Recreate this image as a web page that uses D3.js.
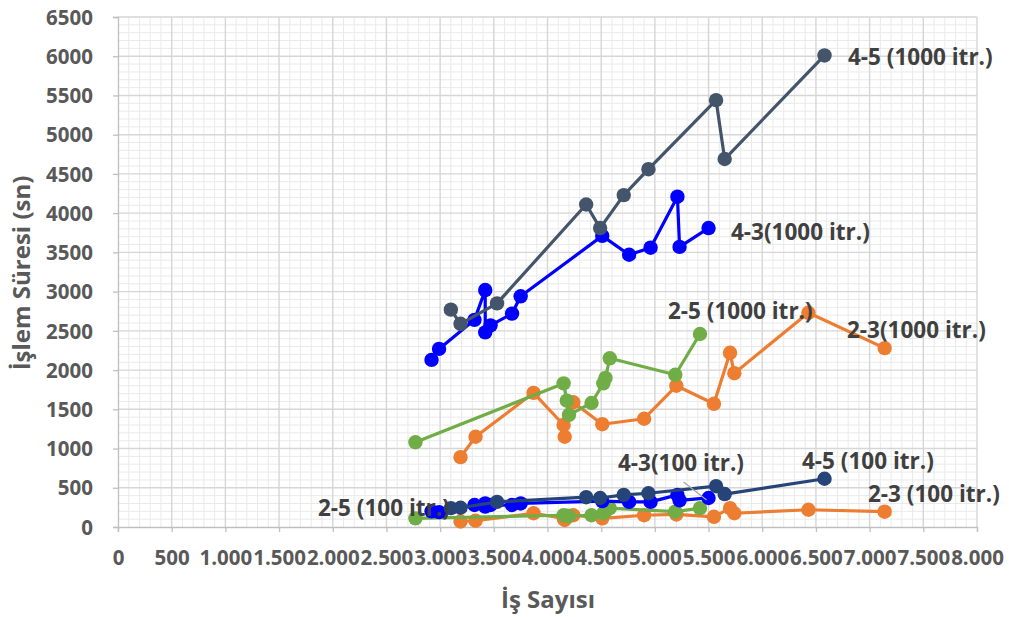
<!DOCTYPE html>
<html>
<head>
<meta charset="utf-8">
<script src="https://cdn.jsdelivr.net/npm/d3@7"></script>
<style>
  html, body { margin: 0; padding: 0; background: #ffffff; }
  svg { display: block; }
  text { font-family: "Open Sans", "DejaVu Sans", sans-serif; font-weight: 700; }
</style>
</head>
<body>
<svg id="chart" width="1009" height="617"></svg>
<script>
// Job counts per configuration (shared by the 1000- and 100-iteration runs)
const jobs45 = [3100, 3190, 3530, 4360, 4490, 4710, 4940, 5570, 5650, 6580];
const jobs43 = [2920, 2990, 3320, 3420, 3420, 3470, 3670, 3750, 4510, 4760, 4960, 5210, 5230, 5500];
const jobs25 = [2770, 4150, 4180, 4200, 4410, 4520, 4540, 4580, 5190, 5420];
const jobs23 = [3190, 3330, 3870, 4150, 4160, 4240, 4510, 4900, 5200, 5550, 5700, 5740, 6430, 7140];

// Processing times (seconds)
const time45_1000 = [2770, 2590, 2850, 4110, 3810, 4230, 4560, 5440, 4690, 6010];
const time43_1000 = [2130, 2270, 2640, 3020, 2480, 2570, 2720, 2940, 3710, 3470, 3560, 4210, 3570, 3810];
const time25_1000 = [1080, 1830, 1610, 1430, 1580, 1830, 1900, 2150, 1940, 2460];
const time23_1000 = [890, 1150, 1710, 1300, 1150, 1590, 1310, 1380, 1800, 1570, 2220, 1960, 2730, 2280];

const time45_100 = [240, 245, 320, 380, 370, 410, 430, 520, 420, 615];
const time43_100 = [200, 190, 280, 300, 260, 280, 280, 300, 330, 320, 320, 410, 340, 370];
const time25_100 = [110, 150, 145, 140, 150, 175, 200, 240, 195, 240];
const time23_100 = [70, 80, 175, 110, 90, 150, 110, 150, 160, 130, 240, 175, 220, 195];

// Axis ticks
const xTicks = d3.range(0, 8001, 500);
const yTicks = d3.range(0, 6501, 500);

const seriesNames = [
  "2-3(1000 itr.)", "2-5 (1000 itr.)", "4-3(1000 itr.)", "4-5 (1000 itr.)",
  "2-3 (100 itr.)", "2-5 (100 itr.)", "4-3(100 itr.)", "4-5 (100 itr.)"
];

const colors = {
  "2-3": "#ED7D31", "2-5": "#70AD47", "4-3": "#0000FF",
  "4-5a": "#44546A", "4-5b": "#264478"
};

const series = [
  { name: seriesNames[0], x: jobs23, y: time23_1000, color: colors["2-3"] },
  { name: seriesNames[1], x: jobs25, y: time25_1000, color: colors["2-5"] },
  { name: seriesNames[2], x: jobs43, y: time43_1000, color: colors["4-3"] },
  { name: seriesNames[3], x: jobs45, y: time45_1000, color: colors["4-5a"] },
  { name: seriesNames[4], x: jobs23, y: time23_100, color: colors["2-3"] },
  { name: seriesNames[5], x: jobs25, y: time25_100, color: colors["2-5"] },
  { name: seriesNames[6], x: jobs43, y: time43_100, color: colors["4-3"] },
  { name: seriesNames[7], x: jobs45, y: time45_100, color: colors["4-5b"] }
];

const svg = d3.select("#chart");
const plotLeft = 118, plotRight = 977, plotTop = 17, plotBottom = 527;

const x = d3.scaleLinear().domain([0, 8000]).range([plotLeft, plotRight]);
const y = d3.scaleLinear().domain([0, 6500]).range([plotBottom, plotTop]);

// Minor grid every 100, major every 500
const minorX = d3.range(0, 8001, 100).filter(v => v % 500 !== 0);
const minorY = d3.range(0, 6501, 100).filter(v => v % 500 !== 0);

const grid = svg.append("g");
grid.selectAll(".mx").data(minorX).join("line")
  .attr("x1", d => x(d)).attr("x2", d => x(d))
  .attr("y1", plotTop).attr("y2", plotBottom)
  .attr("stroke", "#eaeaea").attr("stroke-width", 1);
grid.selectAll(".my").data(minorY).join("line")
  .attr("x1", plotLeft).attr("x2", plotRight)
  .attr("y1", d => y(d)).attr("y2", d => y(d))
  .attr("stroke", "#eaeaea").attr("stroke-width", 1);
grid.selectAll(".Mx").data(xTicks.filter(v => v > 0)).join("line")
  .attr("x1", d => x(d)).attr("x2", d => x(d))
  .attr("y1", plotTop).attr("y2", plotBottom)
  .attr("stroke", "#d6d6d6").attr("stroke-width", 1.4);
grid.selectAll(".My").data(yTicks.filter(v => v > 0)).join("line")
  .attr("x1", plotLeft).attr("x2", plotRight)
  .attr("y1", d => y(d)).attr("y2", d => y(d))
  .attr("stroke", "#d6d6d6").attr("stroke-width", 1.4);

// Axes
const fmtX = d3.formatLocale({ decimal: ",", thousands: ".", grouping: [3], currency: ["", ""] }).format(",d");

const xAxis = svg.append("g")
  .attr("transform", `translate(0,${plotBottom})`)
  .call(d3.axisBottom(x).tickValues(xTicks).tickFormat(fmtX).tickSize(5).tickPadding(18));
const yAxis = svg.append("g")
  .attr("transform", `translate(${plotLeft},0)`)
  .call(d3.axisLeft(y).tickValues(yTicks).tickFormat(d3.format("d")).tickSize(5).tickPadding(20));

[xAxis, yAxis].forEach(g => {
  g.select(".domain").attr("stroke", "#bfbfbf").attr("stroke-width", 1.3);
  g.selectAll(".tick line").attr("stroke", "#bfbfbf").attr("stroke-width", 1.3);
  g.selectAll(".tick text")
    .attr("fill", "#595959")
    .style("font-family", "'Open Sans', sans-serif")
    .style("font-weight", "700")
    .style("font-size", "20.5px");
});
yAxis.selectAll(".tick text").attr("dy", "0.35em");

// Series lines and markers
const line = d3.line().x(d => x(d[0])).y(d => y(d[1]));
series.forEach(s => {
  const pts = s.x.map((v, i) => [v, s.y[i]]);
  const g = svg.append("g");
  g.append("path").datum(pts)
    .attr("d", line).attr("fill", "none")
    .attr("stroke", s.color).attr("stroke-width", 3.2)
    .attr("stroke-linejoin", "round");
  g.selectAll("circle").data(pts).join("circle")
    .attr("cx", d => x(d[0])).attr("cy", d => y(d[1]))
    .attr("r", 7.2).attr("fill", s.color);
});

// Leader line for the 4-3 (100 itr.) label
const s43 = series[6];
const lastIdx = s43.x.length - 1;
svg.append("line")
  .attr("x1", x(s43.x[lastIdx]) - 25).attr("y1", y(s43.y[lastIdx]) - 16)
  .attr("x2", x(s43.x[lastIdx]) - 2).attr("y2", y(s43.y[lastIdx]) + 2)
  .attr("stroke", "#a6a6a6").attr("stroke-width", 1.3);

// Series labels
const labels = [
  { t: seriesNames[3], x: 848, y: 65 },
  { t: seriesNames[2], x: 731, y: 240 },
  { t: seriesNames[1], x: 668, y: 319 },
  { t: seriesNames[0], x: 847, y: 338 },
  { t: seriesNames[6], x: 618, y: 471 },
  { t: seriesNames[7], x: 802, y: 469 },
  { t: seriesNames[4], x: 868, y: 502 },
  { t: seriesNames[5], x: 318, y: 516 }
];
svg.append("g").selectAll("text").data(labels).join("text")
  .attr("x", d => d.x).attr("y", d => d.y)
  .attr("fill", "#404040")
  .style("font-size", "22.5px")
  .text(d => d.t);

// Axis titles
svg.append("text")
  .attr("x", 548).attr("y", 608)
  .attr("text-anchor", "middle")
  .attr("fill", "#595959").style("font-size", "24px")
  .text("İş Sayısı");
svg.append("text")
  .attr("transform", "translate(30,273) rotate(-90)")
  .attr("text-anchor", "middle")
  .attr("fill", "#595959").style("font-size", "24px")
  .text("İşlem Süresi (sn)");
</script>
</body>
</html>
